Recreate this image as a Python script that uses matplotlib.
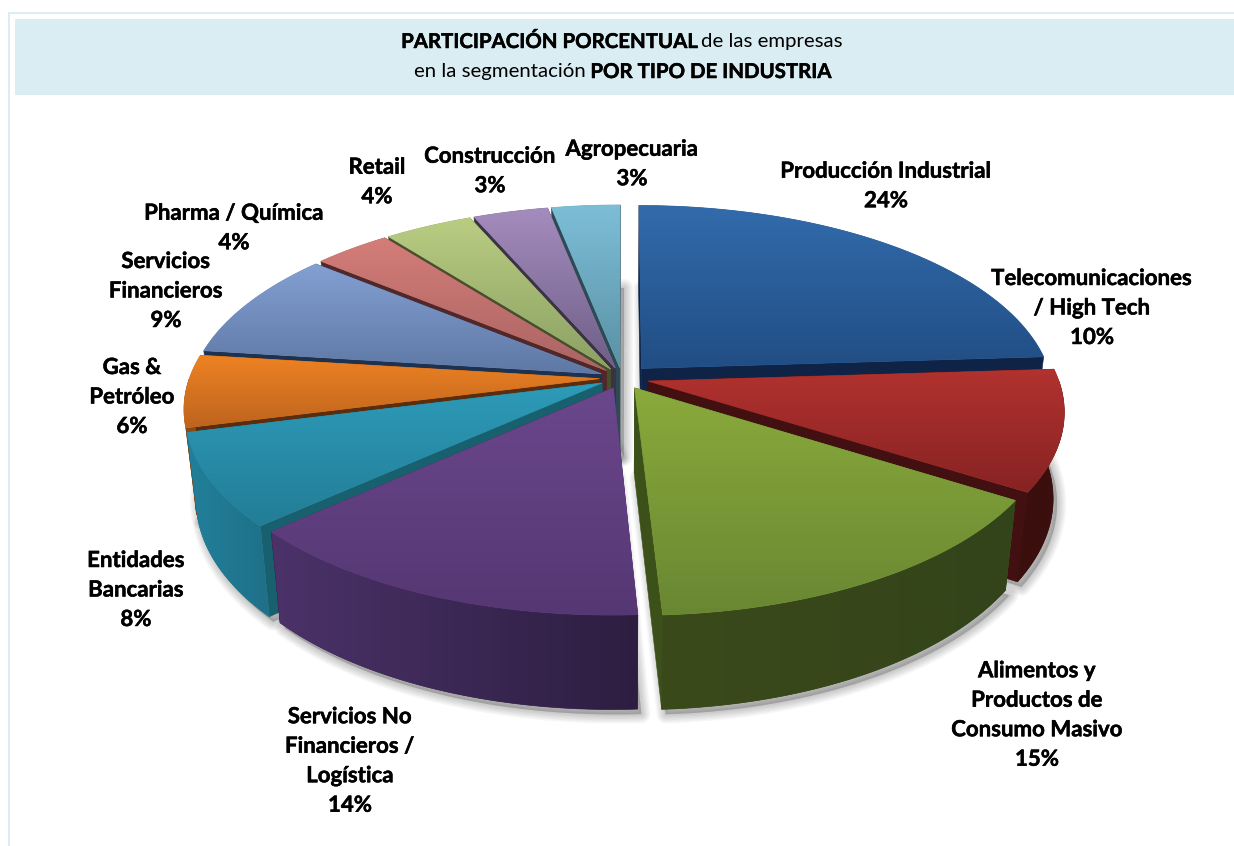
import matplotlib
matplotlib.use("Agg")
import matplotlib.pyplot as plt
from matplotlib.colors import to_rgb
from matplotlib.patches import Polygon, Rectangle
from matplotlib import patheffects
import numpy as np

names = ["Producción Industrial", "Telecomunicaciones\n/ High Tech", "Alimentos y\nProductos de\nConsumo Masivo",
         "Servicios No\nFinancieros /\nLogística", "Entidades\nBancarias", "Gas &\nPetróleo",
         "Servicios\nFinancieros", "Pharma / Química", "Retail", "Construcción", "Agropecuaria"]
# printed percentages, and the slice sizes as they measure on the picture
percent_labels = [24, 10, 15, 14, 8, 6, 9, 4, 4, 3, 3]
values = [24, 10, 15.15, 14.15, 7.7, 6, 9, 3.5, 4.0, 3.4, 3.1]

top_light = ["#326bac", "#b2322f", "#8aaa3c", "#6b478c", "#2d9bb9", "#ee8223", "#82a0d2", "#d47d78", "#b9cd82", "#a58cbe", "#7dbed7"]
top_dark = ["#214e84", "#872323", "#698732", "#553773", "#237d96", "#be641e", "#5f78a5", "#aa6464", "#8ca064", "#6e5f87", "#5a91a5"]
wall_left = ["#1c3f6b", "#3c0f0f", "#3a4a1a", "#4b3269", "#22809a", "#8a4a14", "#4a6088", "#80504e", "#6a7a48", "#54466a", "#3f7488"]
wall_right = ["#1c3f6b", "#3c0f0f", "#34441a", "#2d1e41", "#1f7088", "#8a4a14", "#4a6088", "#80504e", "#6a7a48", "#54466a", "#3f7488"]
cut_color = ["#0f2346", "#421010", "#3c5019", "#2d1e41", "#19606f", "#5a2d0f", "#1e3250", "#50282a", "#46502d", "#3c3246", "#2d4b55"]
explode = [0.07, 0.065, 0.06, 0.055, 0.055, 0.055, 0.055, 0.055, 0.055, 0.055, 0.055]

# label centres in image pixels
label_x = [886, 1092, 1037, 350, 136, 132, 166, 234, 377, 490, 632]
label_y = [186, 308, 715, 761, 590, 397, 291, 228, 182, 171, 164]

# geometry of the tilted pie, in image pixels
cx, cy = 622, 378
rx, ry = 410, 190
persp = 0.15
sx, sy, dy = 0.975, 1.04, 85

BAND = "#daedf3"
LABEL_FONT = "Lato"
TITLE_GAP = 5


def project(u, v):
    w = 1 + persp * v
    return cx + rx * u / w, cy - ry * v / w


def drop(x, y):
    return cx + (x - cx) * sx, cy + (y - cy) * sy + dy


def gradient_fill(ax, pts, c0, c1, z, horizontal=False):
    # solid polygon underneath keeps the edge smooth, gradient image clipped on top
    c0, c1 = np.array(to_rgb(c0)), np.array(to_rgb(c1))
    mean = (c0 + c1) / 2
    ax.add_patch(Polygon(pts, closed=True, facecolor=mean, edgecolor=mean, lw=0.5, zorder=z))
    ramp = np.linspace(0, 1, 128)
    img = c0 + (c1 - c0) * (ramp[None, :, None] if horizontal else ramp[:, None, None])
    ext = (pts[:, 0].min(), pts[:, 0].max(), pts[:, 1].max(), pts[:, 1].min())
    im = ax.imshow(img, extent=ext, aspect="auto", zorder=z + 0.05, interpolation="bilinear")
    im.set_clip_path(Polygon(pts, closed=True, transform=ax.transData))


fig = plt.figure(figsize=(12.34, 8.46), dpi=100)
ax = fig.add_axes([0, 0, 1, 1])
ax.set_axis_off()

ax.add_patch(Rectangle((8, 12), 2, 834, color=BAND, lw=0, zorder=1))
ax.add_patch(Rectangle((8, 12), 1226, 2, color=BAND, lw=0, zorder=1))
ax.add_patch(Rectangle((15, 19), 1219, 76, color=BAND, lw=0, zorder=1))

cum = np.cumsum([0] + values) / sum(values) * 2 * np.pi
slices = []
for i in range(len(values)):
    a0, a1 = cum[i], cum[i + 1]
    mid = (a0 + a1) / 2
    ou, ov = explode[i] * np.sin(mid), explode[i] * np.cos(mid)
    t = np.linspace(a0, a1, 80)
    apex = project(ou, ov)
    ex, ey = project(np.sin(t) + ou, np.cos(t) + ov)
    bx, by = drop(ex, ey)
    slices.append(dict(i=i, depth=np.cos(mid), t=t, apex=apex, edge=(ex, ey), low=(bx, by), lowapex=drop(*apex)))

# soft shadow from the bottom of each slice
for w in [18, 15, 12, 9, 6, 3]:
    for s in slices:
        pts = np.vstack([[s["lowapex"]], np.column_stack(s["low"])]) + [4, 5]
        ax.add_patch(Polygon(pts, closed=True, facecolor="k", edgecolor="k", lw=w * 0.72, alpha=0.035,
                             joinstyle="round", zorder=2))

z = 3
for s in sorted(slices, key=lambda d: d["depth"], reverse=True):
    i = s["i"]
    ex, ey = s["edge"]
    bx, by = s["low"]
    for k in [0, -1]:
        quad = [s["apex"], (ex[k], ey[k]), (bx[k], by[k]), s["lowapex"]]
        ax.add_patch(Polygon(quad, closed=True, facecolor=cut_color[i], edgecolor=cut_color[i], lw=0.4, zorder=z))

    # only the part of the rim that faces the viewer
    front = np.cos(s["t"]) < 0
    if front.sum() > 1:
        rim = np.vstack([np.column_stack((ex[front], ey[front])), np.column_stack((bx[front], by[front]))[::-1]])
        gradient_fill(ax, rim, wall_left[i], wall_right[i], z + 0.1, horizontal=True)

    pts = np.vstack([[s["apex"]], np.column_stack(s["edge"])])
    gradient_fill(ax, pts, top_light[i], top_dark[i], z + 0.2)
    z += 1

ax.set_xlim(0, 1234)
ax.set_ylim(846, 0)

stroke = [patheffects.withStroke(linewidth=0.35, foreground="black")]
for name, v, x, y in zip(names, percent_labels, label_x, label_y):
    ax.text(x, y, f"{name}\n{v}%", ha="center", va="center", fontsize=16, fontweight="bold", family=LABEL_FONT,
            color="black", linespacing=1.5, zorder=100, path_effects=stroke)

# title lines mix bold and regular runs, so place the runs one after another
title_lines = [([("PARTICIPACIÓN PORCENTUAL", "bold"), ("de las empresas", "normal")], 42),
               ([("en la segmentación", "normal"), ("POR TIPO DE INDUSTRIA", "bold")], 72)]
renderer = fig.canvas.get_renderer()
for runs, y in title_lines:
    parts = [ax.text(0, y, r, fontsize=14.7, fontweight=wt, family=LABEL_FONT, va="center", ha="left",
                     color="black", zorder=100, path_effects=stroke if wt == "bold" else None) for r, wt in runs]
    widths = [p.get_window_extent(renderer).width for p in parts]
    x = 622 - (sum(widths) + TITLE_GAP) / 2
    for p, w in zip(parts, widths):
        p.set_x(x)
        x += w + TITLE_GAP

fig.savefig("out.png", dpi=100)
